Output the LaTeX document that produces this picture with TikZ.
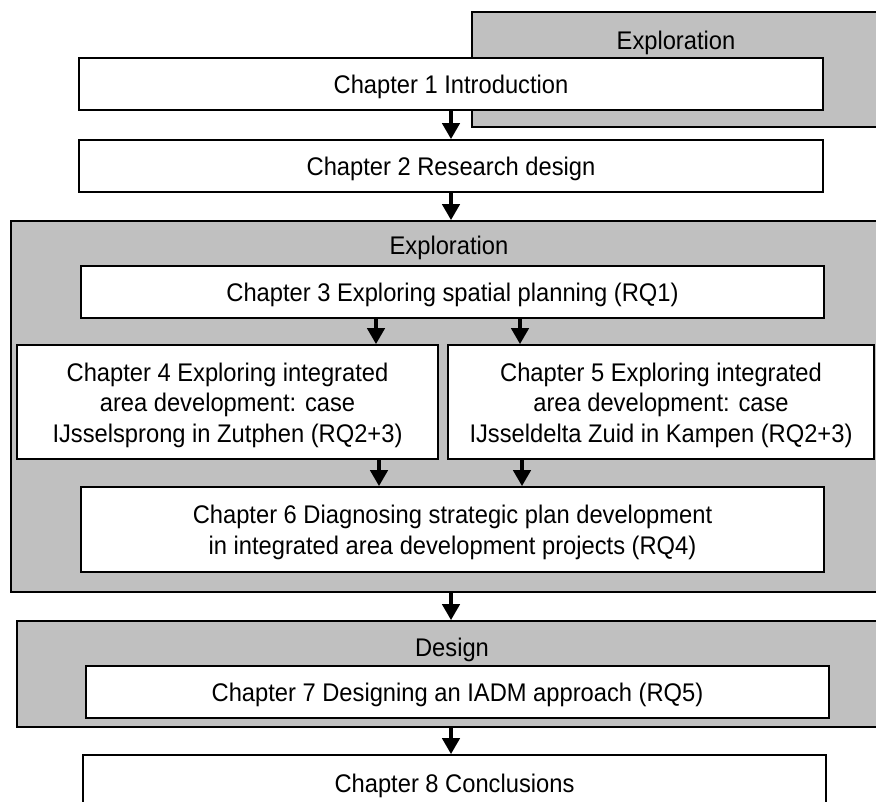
\documentclass[tikz,border=0pt]{standalone}
\usepackage{fontspec}
\setmainfont{Liberation Sans}[FakeStretch=0.93]
\usetikzlibrary{arrows.meta}
\definecolor{panelgray}{HTML}{C0C0C0}
\begin{document}
\begin{tikzpicture}[x=1pt,y=-1pt,
  txt/.style={font=\fontsize{25.5}{30.5}\selectfont},
  box/.style={draw=black, line width=1.6pt, fill=white, inner sep=0pt},
  boxlabel/.style={txt, align=center, inner sep=0pt, yshift=-3pt},
  panel/.style={draw=black, line width=1.6pt, fill=panelgray, inner sep=0pt},
  phase/.style={txt, inner sep=0pt},
  flow/.style={line width=4pt, -{Triangle[width=17pt,length=16pt]}}]
\useasboundingbox (0,0) rectangle (876,802);
\clip (0,0) rectangle (876,802);

% phase panels (grey), partly running off the right edge
\node[panel, minimum width=408pt, minimum height=115pt] (p1) at (676,69.5) {};
\node[phase] (p1t) at (676,43) {Exploration};
\node[panel, minimum width=879pt, minimum height=371pt] (p2) at (450.5,406.5) {};
\node[phase] (p2t) at (449,248) {Exploration};
\node[panel, minimum width=870pt, minimum height=106pt] (p3) at (452,674) {};
\node[phase] (p3t) at (452,650) {Design};

% chapter boxes
\node[box, minimum width=744pt, minimum height=52pt,
  label={[boxlabel]center:Chapter 1 Introduction}] (c1) at (451,84) {};
\node[box, minimum width=744pt, minimum height=52pt,
  label={[boxlabel]center:Chapter 2 Research design}] (c2) at (451,166) {};
\node[box, minimum width=743pt, minimum height=52pt,
  label={[boxlabel]center:Chapter 3 Exploring spatial planning (RQ1)}] (c3) at (452.5,292) {};
\node[box, minimum width=421pt, minimum height=114pt,
  label={[boxlabel]center:{Chapter 4 Exploring integrated\\area development: case\\IJsselsprong in Zutphen (RQ2+3)}}] (c4) at (227.5,402) {};
\node[box, minimum width=426pt, minimum height=114pt,
  label={[boxlabel]center:{Chapter 5 Exploring integrated\\area development: case\\IJsseldelta Zuid in Kampen (RQ2+3)}}] (c5) at (661,402) {};
\node[box, minimum width=743pt, minimum height=85pt,
  label={[boxlabel]center:{Chapter 6 Diagnosing strategic plan development\\in integrated area development projects (RQ4)}}] (c6) at (452.5,529.5) {};
\node[box, minimum width=743pt, minimum height=52pt,
  label={[boxlabel]center:Chapter 7 Designing an IADM approach (RQ5)}] (c7) at (457.5,692) {};
\node[box, minimum width=743pt, minimum height=55pt,
  label={[boxlabel]center:Chapter 8 Conclusions}] (c8) at (454.5,782.5) {};

% arrow columns
\coordinate (xm) at (451,0);
\coordinate (xa) at (376,0);
\coordinate (xb) at (520,0);
\coordinate (xc) at (379,0);
\coordinate (xd) at (522,0);

% connectors
\draw[flow] (c1.south -| xm) -- (c2.north -| xm);
\draw[flow] (c2.south -| xm) -- (p2.north -| xm);
\draw[flow] (c3.south -| xa) -- (c4.north -| xa);
\draw[flow] (c3.south -| xb) -- (c5.north -| xb);
\draw[flow] (c4.south -| xc) -- (c6.north -| xc);
\draw[flow] (c5.south -| xd) -- (c6.north -| xd);
\draw[flow] (p2.south -| xm) -- (p3.north -| xm);
\draw[flow] (p3.south -| xm) -- (c8.north -| xm);
\end{tikzpicture}
\end{document}
